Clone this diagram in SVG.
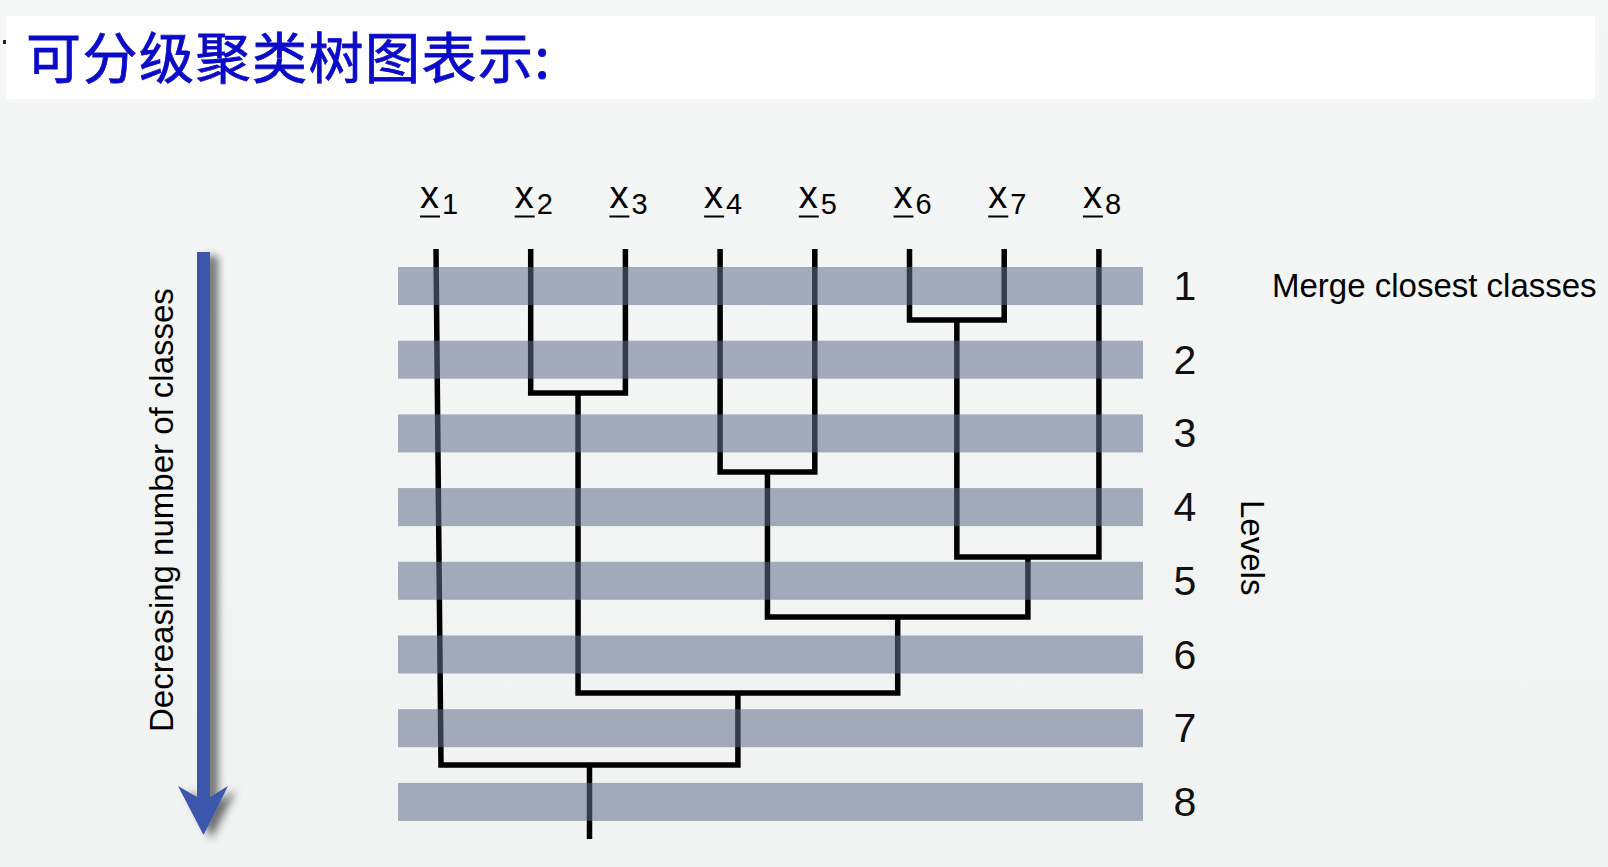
<svg xmlns="http://www.w3.org/2000/svg" width="1608" height="867" viewBox="0 0 1608 867">
<defs>
<style>
.band{fill:#616d89;fill-opacity:.55}
.tree{fill:none;stroke:#000;stroke-width:5.5;stroke-linejoin:miter;stroke-linecap:butt}
.lbl{font-family:"Liberation Sans",Arial,sans-serif;fill:#000}
.ul{stroke:#000;stroke-width:2}
.num{font-family:"Liberation Sans",Arial,sans-serif;font-size:41px;fill:#111;text-anchor:middle}
.xl{font-size:38px}
.sub{font-size:29px}
</style>
<linearGradient id="bg" x1="0" y1="0" x2="0" y2="1">
<stop offset="0" stop-color="#f5f6f6"/>
<stop offset="1" stop-color="#f1f2f2"/>
</linearGradient>
<filter id="sh" x="-100%" y="-10%" width="300%" height="120%">
<feGaussianBlur in="SourceAlpha" stdDeviation="4"/>
<feOffset dx="8" dy="4" result="b"/>
<feComponentTransfer><feFuncA type="linear" slope="0.55"/></feComponentTransfer>
<feMerge><feMergeNode/><feMergeNode in="SourceGraphic"/></feMerge>
</filter>
</defs>
<rect width="1608" height="867" fill="url(#bg)"/>
<g id="title">
<rect x="6" y="16" width="1589" height="83" fill="#ffffff"/>
<rect x="3" y="40" width="3" height="4" fill="#222"/>
<text x="26" y="78" font-family="'Noto Sans CJK SC','Noto Sans CJK JP',sans-serif" font-size="55" letter-spacing="1.5" fill="#0a0ac8" stroke="#0a0ac8" stroke-width="0.8">可分级聚类树图表示:</text>
</g>
<g id="connectors">
<path class="tree" d="M909.5 249V320H1004.2V249"/>
<path class="tree" d="M530.7 249V393H625.4V249"/>
<path class="tree" d="M720.1 249V472H814.8V249"/>
<path class="tree" d="M956.85 320V557H1098.9V249"/>
<path class="tree" d="M767.45 472V617H1027.9V557"/>
<path class="tree" d="M578.05 393V693H897.7V617"/>
<path class="tree" d="M436 249L441 765H737.9V693"/>
<path class="tree" d="M589.5 765V839"/>
</g>
<g id="bands">
<rect class="band" x="398" y="267" width="745" height="38"/>
<rect class="band" x="398" y="340.7" width="745" height="38"/>
<rect class="band" x="398" y="414.4" width="745" height="38"/>
<rect class="band" x="398" y="488.1" width="745" height="38"/>
<rect class="band" x="398" y="561.8" width="745" height="38"/>
<rect class="band" x="398" y="635.5" width="745" height="38"/>
<rect class="band" x="398" y="709.2" width="745" height="38"/>
<rect class="band" x="398" y="782.9" width="745" height="38"/>
</g>
<g id="leaf-labels">
<g id="x1"><text class="lbl xl" x="420" y="208">x<tspan class="sub" dx="3" dy="6">1</tspan></text><line class="ul" x1="420" y1="216.5" x2="440" y2="216.5"/></g>
<g id="x2"><text class="lbl xl" x="514.7" y="208">x<tspan class="sub" dx="3" dy="6">2</tspan></text><line class="ul" x1="514.7" y1="216.5" x2="534.7" y2="216.5"/></g>
<g id="x3"><text class="lbl xl" x="609.4" y="208">x<tspan class="sub" dx="3" dy="6">3</tspan></text><line class="ul" x1="609.4" y1="216.5" x2="629.4" y2="216.5"/></g>
<g id="x4"><text class="lbl xl" x="704.1" y="208">x<tspan class="sub" dx="3" dy="6">4</tspan></text><line class="ul" x1="704.1" y1="216.5" x2="724.1" y2="216.5"/></g>
<g id="x5"><text class="lbl xl" x="798.8" y="208">x<tspan class="sub" dx="3" dy="6">5</tspan></text><line class="ul" x1="798.8" y1="216.5" x2="818.8" y2="216.5"/></g>
<g id="x6"><text class="lbl xl" x="893.5" y="208">x<tspan class="sub" dx="3" dy="6">6</tspan></text><line class="ul" x1="893.5" y1="216.5" x2="913.5" y2="216.5"/></g>
<g id="x7"><text class="lbl xl" x="988.2" y="208">x<tspan class="sub" dx="3" dy="6">7</tspan></text><line class="ul" x1="988.2" y1="216.5" x2="1008.2" y2="216.5"/></g>
<g id="x8"><text class="lbl xl" x="1082.9" y="208">x<tspan class="sub" dx="3" dy="6">8</tspan></text><line class="ul" x1="1082.9" y1="216.5" x2="1102.9" y2="216.5"/></g>
</g>
<g id="level-numbers">
<text class="num" x="1185" y="300">1</text>
<text class="num" x="1185" y="373.7">2</text>
<text class="num" x="1185" y="447.4">3</text>
<text class="num" x="1185" y="521.1">4</text>
<text class="num" x="1185" y="594.8">5</text>
<text class="num" x="1185" y="668.5">6</text>
<text class="num" x="1185" y="742.2">7</text>
<text class="num" x="1185" y="815.9">8</text>
</g>
<g id="merge-label"><text class="lbl" x="1272" y="297" font-size="33">Merge closest classes</text></g>
<g id="levels-label"><text class="lbl" font-size="33" transform="translate(1241 500) rotate(90)">Levels</text></g>
<g id="arrow">
<polygon points="197,252 197,797 178,786 203.5,835 228,786 210,797 210,252" fill="#3b56aa" filter="url(#sh)"/>
</g>
<g id="arrow-label"><text class="lbl" font-size="33" transform="translate(173 732) rotate(-90)">Decreasing number of classes</text></g>
</svg>
